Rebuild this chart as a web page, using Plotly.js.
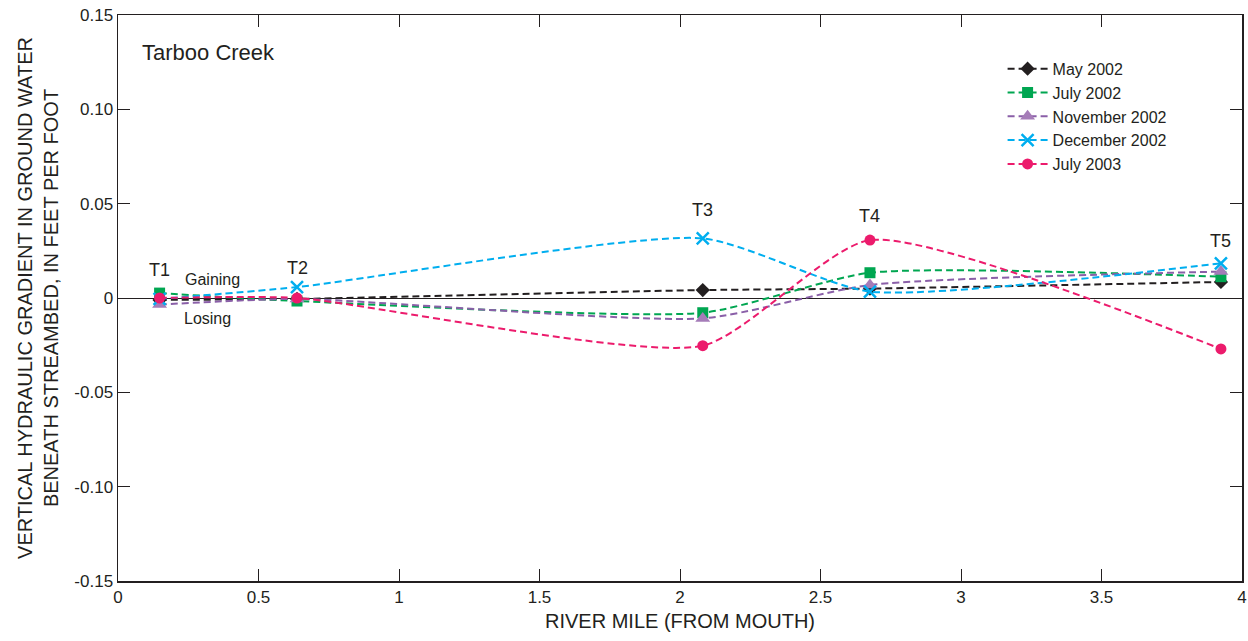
<!DOCTYPE html>
<html>
<head>
<meta charset="utf-8">
<script src="https://cdn.plot.ly/plotly-3.0.1.min.js"></script>
<style>html,body{margin:0;padding:0;background:#fff}#chart{width:1248px;height:641px}</style>
</head>
<body>
<div id="chart"></div>
<script>
// River mile of transects T1..T5
const riverMile = [0.148, 0.637, 2.081, 2.676, 3.925];
const transects = ["T1", "T2", "T3", "T4", "T5"];
const may2002 = [-0.001, -0.0005, 0.0042, 0.005, 0.0085];
const jul2002 = [0.0026, -0.0016, -0.0078, 0.0134, 0.0113];
const nov2002 = [-0.0035, -0.0005, -0.0108, 0.0069, 0.014];
const dec2002 = [-0.0005, 0.0058, 0.0316, 0.0034, 0.0184];
const jul2003 = [0.0, 0.0, -0.0253, 0.0307, -0.027];
const labelY = [0.0148, 0.016, 0.0466, 0.0435, 0.030];

const seriesNames = ["May 2002", "July 2002", "November 2002", "December 2002", "July 2003"];
const seriesData = [may2002, jul2002, nov2002, dec2002, jul2003];
const lineColors = ["#231f20", "#00a651", "#8a5fa8", "#00aeef", "#ec1b6c"];
const markerColors = ["#231f20", "#00a651", "#a57cb8", "#00aeef", "#ec1b6c"];
const symbols = ["diamond", "square", "triangle-up", "x-thin", "circle"];

const traces = seriesData.map((ys, i) => ({
  x: riverMile, y: ys, name: seriesNames[i], type: "scatter", mode: "lines+markers",
  line: {color: lineColors[i], width: 2, dash: "7px,4px", shape: "spline", smoothing: 0.6},
  marker: symbols[i] === "x-thin"
    ? {symbol: "x-thin", size: 12, line: {color: markerColors[i], width: 2.5}, color: markerColors[i]}
    : {symbol: symbols[i], size: symbols[i] === "triangle-up" ? 13 : 11, color: markerColors[i]}
}));

const tickFont = {family: "Liberation Sans Narrow, Arial Narrow, Liberation Sans, sans-serif", size: 17, color: "#231f20"};
const annFont = {family: "Liberation Sans, Arial, sans-serif", size: 18, color: "#231f20"};

const annotations = transects.map((t, i) => ({
  x: riverMile[i], y: labelY[i], text: t, showarrow: false, font: annFont,
  xanchor: "center", yanchor: "middle"
}));
annotations.push({x: 0.335, y: 0.010, text: "Gaining", showarrow: false, font: {family: annFont.family, size: 16, color: "#231f20"}});
annotations.push({x: 0.317, y: -0.011, text: "Losing", showarrow: false, font: {family: annFont.family, size: 16, color: "#231f20"}});
annotations.push({xref: "paper", yref: "paper", x: 0.02, y: 0.933, xanchor: "left", yanchor: "middle",
  text: "Tarboo Creek", showarrow: false, font: {family: annFont.family, size: 22, color: "#231f20"}});

const layout = {
  width: 1248, height: 641,
  margin: {l: 118, r: 6, t: 15, b: 60},
  paper_bgcolor: "#fff", plot_bgcolor: "#fff",
  showlegend: true,
  legend: {x: 0.787, y: 0.935, xanchor: "left", yanchor: "top", bgcolor: "rgba(0,0,0,0)",
    font: {family: annFont.family, size: 16, color: "#231f20"}, tracegroupgap: 0, itemwidth: 40},
  xaxis: {
    range: [0, 4], tickvals: [0, 0.5, 1, 1.5, 2, 2.5, 3, 3.5, 4],
    ticktext: ["0", "0.5", "1", "1.5", "2", "2.5", "3", "3.5", "4"],
    ticks: "inside", ticklen: 12, tickcolor: "#231f20", showgrid: false, zeroline: false,
    showline: true, linecolor: "#231f20", linewidth: 1.5, mirror: "ticks",
    tickfont: tickFont,
    title: {text: "RIVER MILE (FROM MOUTH)", font: {family: tickFont.family, size: 20, color: "#231f20"}, standoff: 8}
  },
  yaxis: {
    range: [-0.15, 0.15], tickvals: [-0.15, -0.1, -0.05, 0, 0.05, 0.1, 0.15],
    ticktext: ["-0.15", "-0.10", "-0.05", "0", "0.05", "0.10", "0.15"],
    ticks: "inside", ticklen: 12, tickcolor: "#231f20", showgrid: false,
    zeroline: true, zerolinecolor: "#231f20", zerolinewidth: 1,
    showline: true, linecolor: "#231f20", linewidth: 1.5, mirror: "ticks",
    tickfont: tickFont,
    title: {text: "VERTICAL HYDRAULIC GRADIENT IN GROUND WATER<br>BENEATH STREAMBED, IN FEET PER FOOT",
      font: {family: tickFont.family, size: 20, color: "#231f20"}, standoff: 10}
  },
  annotations: annotations
};

Plotly.newPlot("chart", traces, layout, {displayModeBar: false, staticPlot: true});
</script>
</body>
</html>
